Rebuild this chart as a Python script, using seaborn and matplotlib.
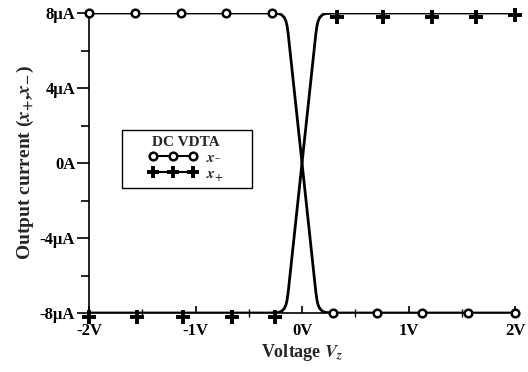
import matplotlib
matplotlib.use("Agg")
import matplotlib.pyplot as plt
import seaborn as sns
from matplotlib.lines import Line2D
from matplotlib.patches import Rectangle
from matplotlib.ticker import MultipleLocator

# --- data -----------------------------------------------------------------
# x- output current (uA) against Vz (V); x+ is the mirror image
V_CURVE = [-2.0, -0.30, -0.22, -0.19, -0.165, -0.15, -0.14, -0.13, 0.0,
           0.13, 0.14, 0.15, 0.165, 0.19, 0.22, 0.30, 2.0]
I_MINUS = [8.0, 8.0, 7.97, 7.9, 7.75, 7.55, 7.3, 6.9, 0.0,
           -6.9, -7.3, -7.55, -7.75, -7.9, -7.97, -8.0, -8.0]
I_PLUS = [-i for i in I_MINUS]

# marker positions along the two curves
V_MARK_MINUS = [-2.0, -1.57, -1.14, -0.71, -0.28, 0.29, 0.70, 1.13, 1.56, 2.0]
I_MARK_MINUS = [8, 8, 8, 8, 8, -8, -8, -8, -8, -8]
V_MARK_PLUS = [-2.0, -1.55, -1.12, -0.66, -0.25, 0.33, 0.76, 1.22, 1.63, 2.0]
I_MARK_PLUS = [-8.2, -8.2, -8.2, -8.2, -8.2, 7.8, 7.8, 7.8, 7.8, 7.9]

X_TICKS = [-2, -1, 0, 1, 2]
X_LABELS = ["-2V", "-1V", "0V", "1V", "2V"]
Y_TICKS = [-8, -4, 0, 4, 8]
Y_LABELS = ["-8\u00b5A", "-4\u00b5A", "0A", "4\u00b5A", "8\u00b5A"]

sns.set_theme(style="ticks")
plt.rcParams["font.family"] = ["Liberation Serif", "DejaVu Serif"]
plt.rcParams["font.weight"] = "bold"
plt.rcParams["mathtext.fontset"] = "stix"

fig = plt.figure(figsize=(5.28, 3.72), dpi=100)
ax = fig.add_axes([0.1686, 0.1586, 0.8068, 0.8064])

sns.lineplot(x=V_CURVE, y=I_MINUS, color="black", lw=2.0, ax=ax, sort=False)
sns.lineplot(x=V_CURVE, y=I_PLUS, color="black", lw=2.0, ax=ax, sort=False)

ax.plot(V_MARK_MINUS, I_MARK_MINUS, linestyle="none", marker="o", ms=5.5,
        mfc="white", mec="black", mew=1.8, clip_on=False, zorder=5)
ax.plot(V_MARK_PLUS, I_MARK_PLUS, linestyle="none", marker="+", ms=10,
        mec="black", mew=2.8, clip_on=False, zorder=5)

ax.set_xlim(-2, 2)
ax.set_ylim(-8, 8)
sns.despine(ax=ax, top=True, right=True)
for s in ("left", "bottom"):
    ax.spines[s].set_linewidth(1.2)
    ax.spines[s].set_color("black")

ax.set_xticks(X_TICKS)
ax.set_xticklabels(X_LABELS, fontsize=12, fontweight="bold")
ax.set_yticks(Y_TICKS)
ax.set_yticklabels(Y_LABELS, fontsize=12, fontweight="bold")
ax.xaxis.set_minor_locator(MultipleLocator(0.5))
ax.yaxis.set_minor_locator(MultipleLocator(2))
ax.tick_params(axis="x", which="major", direction="in", length=5, width=1.2,
               pad=7, colors="black")
ax.tick_params(axis="x", which="minor", direction="inout", length=6, width=1.0,
               colors="black")
ax.tick_params(axis="y", which="major", direction="out", length=9, width=1.2,
               pad=1, colors="black")
ax.tick_params(axis="y", which="minor", direction="out", length=6, width=1.2,
               colors="black")

ax.set_xlabel(r"Voltage $\mathbfit{V}_{\mathbfit{z}}$", fontsize=13,
              fontweight="bold", labelpad=2)
ax.set_ylabel(r"Output current ($\mathbfit{x}_{+}$,$\mathbfit{x}_{-}$)",
              fontsize=14, fontweight="bold", labelpad=3)

# legend: frame drawn separately so the entries sit centred in a wider box
ax.add_patch(Rectangle((0.077, 0.417), 0.305, 0.193, transform=ax.transAxes,
                       facecolor="white", edgecolor="black", lw=1.0, zorder=6))
handles = [
    Line2D([], [], color="black", lw=1.5, marker="o", ms=5.5, mfc="white",
           mec="black", mew=1.8),
    Line2D([], [], color="black", lw=1.5, marker="+", ms=9, mew=2.8),
]
leg = ax.legend(handles, [r"$\mathit{x}$-", r"$\mathit{x}_{+}$"],
                title="DC VDTA", numpoints=3, handlelength=3.2,
                loc="center", bbox_to_anchor=(0.228, 0.513),
                frameon=False, borderpad=0.2, labelspacing=0.15,
                handletextpad=0.6, prop={"size": 11, "weight": "bold"})
leg.set_zorder(7)
leg.get_title().set_fontsize(11)
leg.get_title().set_fontweight("bold")
leg._legend_box.align = "center"

fig.savefig("out.png", dpi=100)
